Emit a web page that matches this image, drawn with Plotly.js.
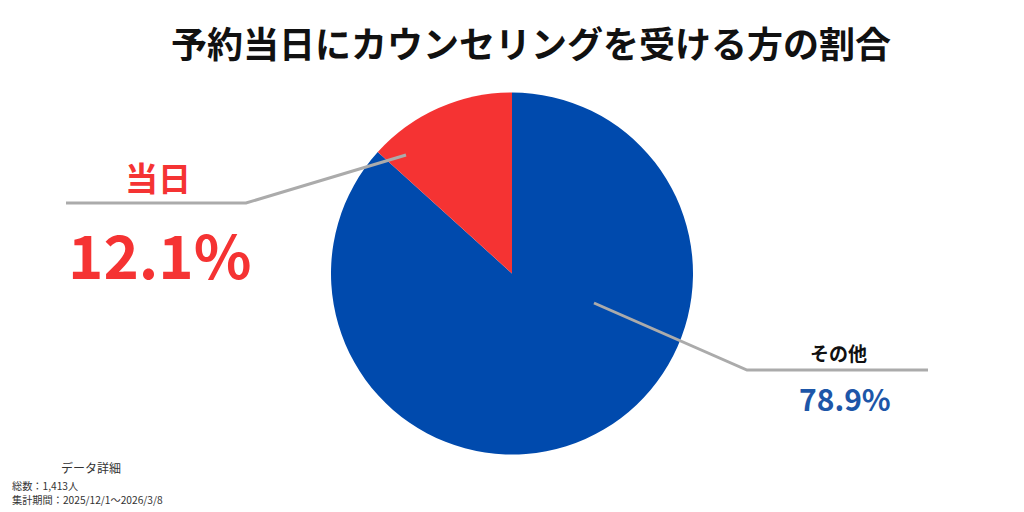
<!DOCTYPE html>
<html>
<head>
<meta charset="utf-8">
<script src="https://cdn.plot.ly/plotly-3.0.1.min.js"></script>
<style>
  html, body { margin: 0; padding: 0; background: #fff; }
  #chart { width: 1024px; height: 512px; }
</style>
</head>
<body>
<div id="chart"></div>
<script>
// 予約当日にカウンセリングを受ける方の割合
var categories = ['当日', 'その他'];
var values = [12.1, 78.9];
var sliceColors = ['#F53333', '#004AAD'];
var noteLines = ['総数：1,413人', '集計期間：2025/12/1～2026/3/8'];

var JP = '"Noto Sans CJK JP", "Noto Sans", sans-serif';
var W = 1024, H = 512;
function px(x) { return x / W; }
function py(y) { return 1 - y / H; }

// 「当日」を12時から左側に置くため、順番を逆にして時計回りに描く
var trace = {
  type: 'pie',
  labels: categories.slice().reverse(),
  values: values.slice().reverse(),
  sort: false,
  direction: 'clockwise',
  rotation: 0,
  marker: { colors: sliceColors.slice().reverse(), line: { width: 0 } },
  textinfo: 'none',
  hoverinfo: 'none',
  showlegend: false,
  domain: { x: [px(331), px(693)], y: [py(455), py(92)] }
};

var gray = { color: '#ABABAB', width: 3 };
var shapes = [
  { type: 'path', xref: 'paper', yref: 'paper', line: gray,
    path: 'M ' + px(406) + ' ' + py(155) + ' L ' + px(246) + ' ' + py(203) + ' L ' + px(66) + ' ' + py(203) },
  { type: 'path', xref: 'paper', yref: 'paper', line: gray,
    path: 'M ' + px(594) + ' ' + py(303) + ' L ' + px(747) + ' ' + py(370) + ' L ' + px(928) + ' ' + py(370) }
];

function note(text, x, y, size, color, anchor) {
  return { text: text, xref: 'paper', yref: 'paper', x: px(x), y: py(y),
    xanchor: anchor || 'center', yanchor: 'middle', showarrow: false,
    font: { family: JP, size: size, color: color } };
}

var annotations = [
  note('<b>' + categories[0] + '</b>', 158, 177, 33, sliceColors[0]),
  note('<b>' + values[0].toFixed(1) + '%</b>', 159, 252, 60, sliceColors[0]),
  note('<b>' + categories[1] + '</b>', 838, 352, 19, '#111111'),
  note('<b>' + values[1].toFixed(1) + '%</b>', 845, 398, 30, '#1D56A8'),
  note('データ詳細', 91, 467, 12, '#333333'),
  note(noteLines[0], 10, 485, 10.2, '#333333', 'left'),
  note(noteLines[1], 10, 499, 10.2, '#333333', 'left')
];

var layout = {
  width: W, height: H,
  margin: { l: 0, r: 0, t: 0, b: 0 },
  paper_bgcolor: '#ffffff',
  title: { text: '<b>予約当日にカウンセリングを受ける方の割合</b>',
    x: px(531), xanchor: 'center', y: py(45), yanchor: 'middle',
    font: { family: JP, size: 36, color: '#111111' } },
  shapes: shapes,
  annotations: annotations
};

Plotly.newPlot('chart', [trace], layout, { staticPlot: true, displayModeBar: false });
</script>
</body>
</html>
